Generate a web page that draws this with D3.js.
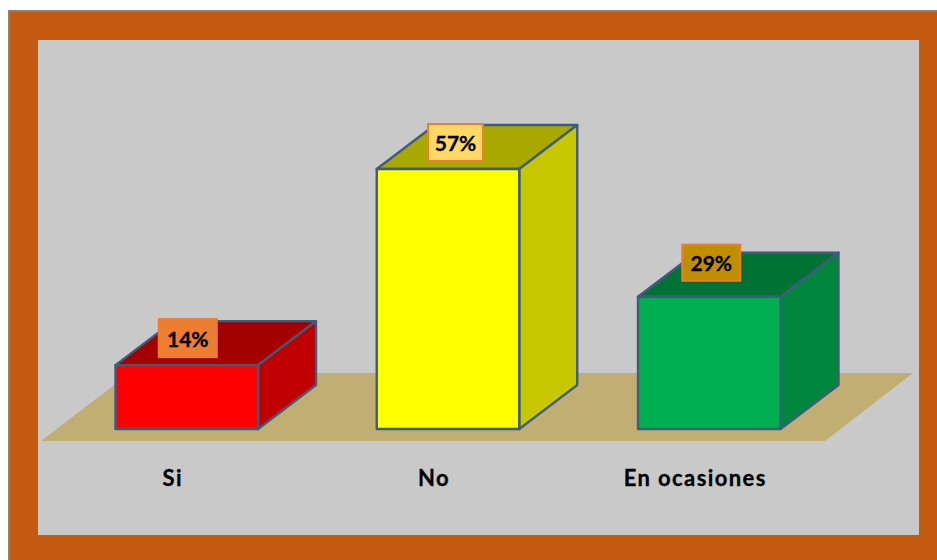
<!DOCTYPE html>
<html>
<head>
<meta charset="utf-8">
<script src="https://cdn.jsdelivr.net/npm/d3@7"></script>
<style>
    html, body { margin: 0; padding: 0; background: #fff; overflow: hidden; }
    svg { display: block; }
    text { font-family: Lato, "Open Sans", sans-serif; font-weight: 700; fill: #000; stroke: #000; stroke-width: 0.3px; }
    .bar { filter: blur(0.5px); }
</style>
</head>
<body>
<div id="chart"></div>
<script>
// Chart data
const categories = ["Si", "No", "En ocasiones"];
const percentages = [14, 57, 29];
const frontColors = ["#ff0000", "#ffff00", "#00b050"];
const topColors = ["#a50000", "#a8a800", "#007233"];
const sideColors = ["#c00000", "#c8c800", "#00863d"];
const labelFills = ["#ed7d31", "#ffd966", "#bf8f00"];

const width = 937;
const height = 560;
// 3d depth of the bars
const depthX = 58;
const depthY = 44;
const outline = "#3f5c7c";

const svg = d3.select("#chart")
    .append("svg")
        .attr("width", width)
        .attr("height", height);

// Outer frame and plot background
svg.append("rect")
    .attr("x", 9).attr("y", 11)
    .attr("width", width + 10).attr("height", height + 10)
    .attr("fill", "#c55a11")
    .attr("stroke", "#8f7f6f")
    .attr("stroke-width", 2);
svg.append("rect")
    .attr("x", 38).attr("y", 40)
    .attr("width", 881).attr("height", 495)
    .attr("fill", "#c9c9c9");

// Scales
const x = d3.scaleBand()
    .domain(categories)
    .range([115.5, 780.5])
    .paddingInner(0.4545)
    .paddingOuter(0);
const y = d3.scaleLinear()
    .domain([0, 57])
    .range([429, 169]);

// Floor under the bars
const floor = d3.path();
floor.moveTo(41, 441);
floor.lineTo(825, 441);
floor.lineTo(913, 373);
floor.lineTo(130, 373);
floor.closePath();
svg.append("path")
    .attr("d", floor.toString())
    .attr("fill", "#c1ae72");

// One group per bar, with the three visible faces
const bars = svg.selectAll("g.bar")
    .data(categories)
    .enter()
    .append("g")
        .attr("class", "bar");

const face = function(points) {
    return d3.line()(points) + "Z";
};

bars.append("path") // top face
    .attr("d", function(d, i) {
        const x0 = x(d), x1 = x(d) + x.bandwidth(), yt = y(percentages[i]);
        return face([[x0, yt], [x1, yt], [x1 + depthX, yt - depthY], [x0 + depthX, yt - depthY]]);
    })
    .attr("fill", (d, i) => topColors[i]);
bars.append("path") // side face
    .attr("d", function(d, i) {
        const x1 = x(d) + x.bandwidth(), yt = y(percentages[i]), yb = y(0);
        return face([[x1, yt], [x1 + depthX, yt - depthY], [x1 + depthX, yb - depthY], [x1, yb]]);
    })
    .attr("fill", (d, i) => sideColors[i]);
bars.append("rect") // front face
    .attr("x", d => x(d))
    .attr("y", (d, i) => y(percentages[i]))
    .attr("width", x.bandwidth())
    .attr("height", (d, i) => y(0) - y(percentages[i]))
    .attr("fill", (d, i) => frontColors[i]);
bars.selectAll("path, rect")
    .attr("stroke", outline)
    .attr("stroke-width", 2.4)
    .attr("stroke-linejoin", "round");

// Value labels, moved by hand off the bar top like in the original
const labelNudgeX = [1, 7.5, 2];
const labelNudgeY = [-27, -26.5, -34];
const labelW = [58, 55, 58];
const labelH = [38, 37, 36];
const labels = svg.selectAll("g.value")
    .data(categories)
    .enter()
    .append("g")
        .attr("class", "value")
        .attr("transform", (d, i) =>
            `translate(${x(d) + x.bandwidth() / 2 + labelNudgeX[i]}, ${y(percentages[i]) + labelNudgeY[i]})`);
labels.append("rect")
    .attr("x", (d, i) => -labelW[i] / 2)
    .attr("y", (d, i) => -labelH[i] / 2)
    .attr("width", (d, i) => labelW[i])
    .attr("height", (d, i) => labelH[i])
    .attr("fill", (d, i) => labelFills[i])
    .attr("stroke", "#ed7d31")
    .attr("stroke-width", 2);
labels.append("text")
    .attr("text-anchor", "middle")
    .attr("dy", "0.4em")
    .attr("font-size", 21)
    .text((d, i) => percentages[i] + "%");

// Category axis, only the labels are visible
const axis = svg.append("g")
    .attr("transform", "translate(-14, 470)")
    .call(d3.axisBottom(x).tickSize(0).tickPadding(0));
axis.select(".domain").remove();
axis.selectAll("text")
    .attr("font-size", 22)
    .attr("dy", "0.72em")
    .style("font-family", "Lato, 'Open Sans', sans-serif")
    .style("letter-spacing", "1.4px");
</script>
</body>
</html>
